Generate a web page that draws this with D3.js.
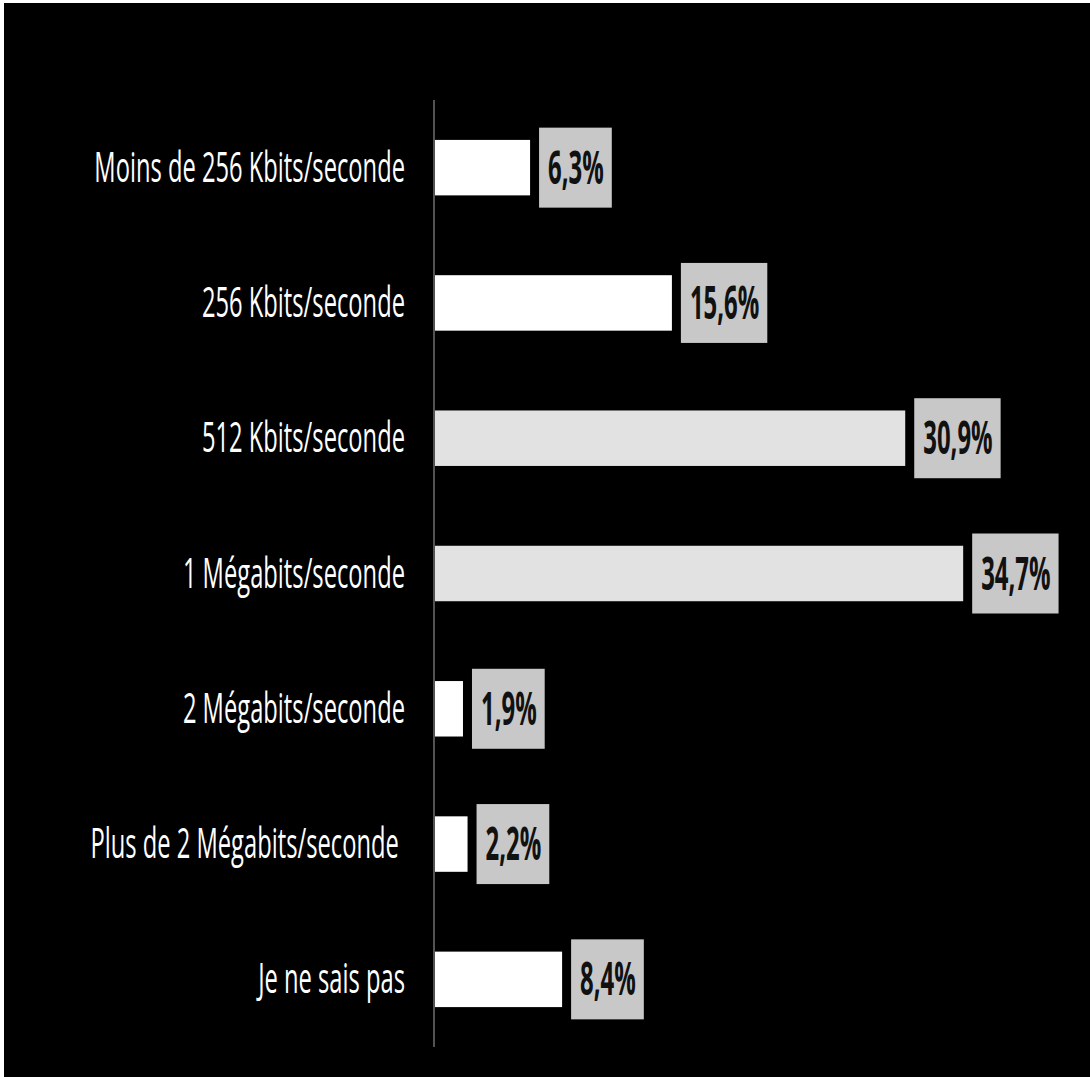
<!DOCTYPE html>
<html><head><meta charset="utf-8">
<script src="https://cdn.jsdelivr.net/npm/d3@7"></script>
<style>html,body{margin:0;padding:0;background:#000;}svg{display:block;}</style>
</head><body>
<script>
const categories = ["Moins de 256 Kbits/seconde","256 Kbits/seconde","512 Kbits/seconde","1 Mégabits/seconde","2 Mégabits/seconde","Plus de 2 Mégabits/seconde ","Je ne sais pas"];
const values = [6.3, 15.6, 30.9, 34.7, 1.9, 2.2, 8.4];
const valueLabels = ["6,3%","15,6%","30,9%","34,7%","1,9%","2,2%","8,4%"];

const W = 1090, H = 1077;
const svg = d3.select("body").append("svg").attr("width", W).attr("height", H);
svg.append("rect").attr("width", W).attr("height", H).attr("fill", "#000");
// thin white edge on top and left
svg.append("rect").attr("x",0).attr("y",0).attr("width",W).attr("height",3).attr("fill","#fff");
svg.append("rect").attr("x",0).attr("y",0).attr("width",4).attr("height",H).attr("fill","#fff");

const x0 = 434;
const x = d3.scaleLinear().domain([0, 35]).range([x0, x0 + 35 * 15.25]);
const y = d3.scaleBand().domain(categories).range([100, 1047]).paddingInner(0.59).paddingOuter(0.295);

const data = categories.map((c, i) => ({c, v: values[i], l: valueLabels[i]}));

// axis line
svg.append("line").attr("x1", x0).attr("x2", x0).attr("y1", 100).attr("y2", 1047)
  .attr("stroke", "#8a8a8a").attr("stroke-width", 1.2);

// bars
svg.selectAll("rect.bar").data(data).enter().append("rect").attr("class","bar")
  .attr("x", x(0) + 1).attr("y", d => y(d.c))
  .attr("width", d => x(d.v) - x(0) - 1).attr("height", y.bandwidth())
  .attr("fill", d => d.v > 30 ? "#e2e2e2" : "#ffffff");

// category labels
const sxCat = 0.565;
svg.selectAll("text.cat").data(data).enter().append("text").attr("class","cat")
  .attr("transform", d => `translate(405,${y(d.c) + y.bandwidth()/2 + 14}) scale(${sxCat},1)`)
  .attr("text-anchor","end").attr("fill","#fff")
  .style("font-family","'Open Sans', sans-serif").style("font-size","42px")
  .style("white-space","pre").attr("xml:space","preserve")
  .text(d => d.c);

// value labels with boxes
const sxVal = 0.52;
const g = svg.selectAll("g.val").data(data).enter().append("g").attr("class","val");
g.each(function(d){
  const gg = d3.select(this);
  const cy = y(d.c) + y.bandwidth()/2;
  const bx = x(d.v) + 9;
  const rect = gg.append("rect").attr("fill","#c8c8c8");
  const t = gg.append("text")
    .attr("transform", `translate(${bx + 9},${cy + 16}) scale(${sxVal},1)`)
    .attr("fill","#111")
    .style("font-family","'Open Sans', sans-serif").style("font-weight","700").style("font-size","46px")
    .text(d.l);
  const tw = t.node().getComputedTextLength() * sxVal;
  rect.attr("x", bx).attr("y", cy - 40).attr("width", tw + 17).attr("height", 80);
});
</script>
</body></html>
